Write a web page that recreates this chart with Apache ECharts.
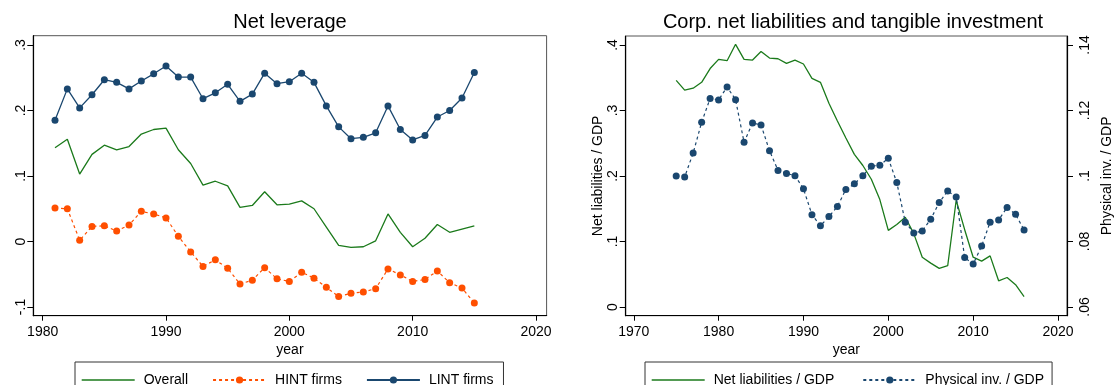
<!DOCTYPE html>
<html>
<head>
<meta charset="utf-8">
<script src="https://cdn.jsdelivr.net/npm/echarts@6/dist/echarts.min.js"></script>
<style>
  html, body { margin: 0; padding: 0; background: #fff; }
  #chart { width: 1115px; height: 385px; }
</style>
</head>
<body>
<div id="chart"></div>
<script>
// left panel: net leverage
const levYears = [1981, 1982, 1983, 1984, 1985, 1986, 1987, 1988, 1989, 1990,
  1991, 1992, 1993, 1994, 1995, 1996, 1997, 1998, 1999, 2000,
  2001, 2002, 2003, 2004, 2005, 2006, 2007, 2008, 2009, 2010,
  2011, 2012, 2013, 2014, 2015];
const overall = [0.143, 0.156, 0.103, 0.133, 0.147, 0.140, 0.145, 0.164, 0.171, 0.173,
  0.140, 0.119, 0.086, 0.092, 0.085, 0.052, 0.055, 0.076, 0.056, 0.057,
  0.062, 0.050, 0.022, -0.006, -0.009, -0.008, 0.001, 0.042, 0.014, -0.008,
  0.005, 0.026, 0.014, 0.019, 0.024];
const hint = [0.051, 0.050, 0.002, 0.023, 0.024, 0.016, 0.025, 0.046, 0.042, 0.036,
  0.008, -0.016, -0.038, -0.028, -0.041, -0.065, -0.059, -0.040, -0.057, -0.061,
  -0.047, -0.056, -0.070, -0.084, -0.079, -0.077, -0.072, -0.042, -0.051, -0.061,
  -0.058, -0.045, -0.063, -0.071, -0.094];
const lint = [0.185, 0.233, 0.204, 0.224, 0.247, 0.243, 0.233, 0.245, 0.256, 0.268,
  0.251, 0.251, 0.218, 0.227, 0.240, 0.214, 0.225, 0.257, 0.241, 0.244,
  0.257, 0.243, 0.207, 0.175, 0.157, 0.159, 0.166, 0.207, 0.171, 0.155,
  0.162, 0.190, 0.200, 0.219, 0.258];
const levXTicks = [1980, 1990, 2000, 2010, 2020];
const levYTicks = [-0.1, 0, 0.1, 0.2, 0.3];

// right panel: corporate net liabilities and investment
const corpYears = [1975, 1976, 1977, 1978, 1979, 1980, 1981, 1982, 1983, 1984,
  1985, 1986, 1987, 1988, 1989, 1990, 1991, 1992, 1993, 1994,
  1995, 1996, 1997, 1998, 1999, 2000, 2001, 2002, 2003, 2004,
  2005, 2006, 2007, 2008, 2009, 2010, 2011, 2012, 2013, 2014,
  2015, 2016];
const netLiab = [0.346, 0.331, 0.334, 0.343, 0.364, 0.378, 0.376, 0.401, 0.378, 0.377,
  0.390, 0.380, 0.379, 0.372, 0.377, 0.371, 0.349, 0.343, 0.311, 0.284,
  0.258, 0.233, 0.216, 0.195, 0.164, 0.117, 0.126, 0.137, 0.112, 0.076,
  0.067, 0.059, 0.063, 0.163, 0.118, 0.076, 0.070, 0.078, 0.040, 0.045,
  0.034, 0.016];
const physInv = [0.1000, 0.0997, 0.1070, 0.1164, 0.1237, 0.1232, 0.1272, 0.1233, 0.1103, 0.1162,
  0.1156, 0.1077, 0.1017, 0.1008, 0.1001, 0.0961, 0.0882, 0.0848, 0.0876, 0.0907,
  0.0959, 0.0976, 0.1001, 0.1030, 0.1033, 0.1054, 0.0980, 0.0859, 0.0826, 0.0832,
  0.0868, 0.0919, 0.0954, 0.0936, 0.0751, 0.0731, 0.0786, 0.0859, 0.0866, 0.0904,
  0.0883, 0.0835];
const corpXTicks = [1970, 1980, 1990, 2000, 2010, 2020];
const liabTicks = [0, 0.1, 0.2, 0.3, 0.4];
const invTicks = [0.06, 0.08, 0.1, 0.12, 0.14];

const FONT = "'Liberation Sans', Arial, Helvetica, sans-serif";
const GREEN = '#1b7a1b';
const ORANGE = '#ff4f00';
const NAVY = '#1a476f';

// stata style numbers: .1, -.1, 0
const fmt = v => {
  const r = Math.round(v * 1000) / 1000;
  if (r === 0) return '0';
  return String(r).replace('0.', '.');
};

const txt = {color: '#000', fontSize: 14, fontFamily: FONT};

const xAxis = (gridIndex, min, max, ticks) => ({
  type: 'value', gridIndex, min, max,
  name: 'year', nameLocation: 'middle', nameGap: 25,
  nameTextStyle: txt,
  axisLine: {onZero: false, lineStyle: {color: '#000', width: 1.2}},
  axisTick: {customValues: ticks, length: 5, lineStyle: {color: '#000', width: 1}},
  axisLabel: Object.assign({customValues: ticks, margin: 9, formatter: v => String(Math.round(v))}, txt),
  splitLine: {show: false}
});

const yAxis = (gridIndex, min, max, ticks, margin, extra) => Object.assign({
  type: 'value', gridIndex, min, max,
  axisLine: {show: true, onZero: false, lineStyle: {color: '#000', width: 1.2}},
  axisTick: {show: true, customValues: ticks, length: 6, lineStyle: {color: '#000', width: 1}},
  axisLabel: Object.assign({customValues: ticks, rotate: 90, margin: margin, formatter: fmt}, txt),
  splitLine: {show: false}
}, extra);

const pairs = (xs, ys) => xs.map((x, i) => [x, ys[i]]);

const chart = echarts.init(document.getElementById('chart'));
chart.setOption({
  animation: false,
  backgroundColor: '#fff',
  title: [
    {text: 'Net leverage', left: 290, top: 12, textAlign: 'center', padding: 0,
      textStyle: {fontSize: 20, fontWeight: 'normal', color: '#000', fontFamily: FONT}},
    {text: 'Corp. net liabilities and tangible investment', left: 853, top: 12, textAlign: 'center', padding: 0,
      textStyle: {fontSize: 20, fontWeight: 'normal', color: '#000', fontFamily: FONT}}
  ],
  grid: [
    {left: 33.3, right: 568.4, top: 35.7, bottom: 69.3, show: true, borderColor: '#555', borderWidth: 1, backgroundColor: '#fff'},
    {left: 625.7, right: 35, top: 36, bottom: 69.3, show: true, borderColor: '#555', borderWidth: 1, backgroundColor: '#fff'}
  ],
  xAxis: [
    xAxis(0, 1979.24, 2020.86, levXTicks),
    xAxis(1, 1969.05, 2021.06, corpXTicks)
  ],
  yAxis: [
    yAxis(0, -0.1133, 0.3142, levYTicks, 5),
    yAxis(1, -0.0133, 0.4137, liabTicks, 6, {
      name: 'Net liabilities / GDP', nameLocation: 'middle', nameRotate: 90, nameGap: 17, nameTextStyle: txt
    }),
    yAxis(1, 0.05734, 0.14275, invTicks, 11, {
      position: 'right',
      name: 'Physical inv. / GDP', nameLocation: 'middle', nameRotate: 90, nameGap: 33, nameTextStyle: txt
    })
  ],
  legend: [
    {
      left: 75, top: 362, padding: [11, 10, 20, 6.7],
      itemWidth: 53, itemHeight: 9, itemGap: 24,
      borderColor: '#333', borderWidth: 1, selectedMode: false,
      textStyle: Object.assign({padding: [0, 0, 0, 4]}, txt),
      data: [{name: 'Overall', icon: 'path://M0,0h53v1.3h-53z'}, 'HINT firms', 'LINT firms']
    },
    {
      left: 645, top: 362, padding: [11, 8, 20, 6.7],
      itemWidth: 53, itemHeight: 9, itemGap: 28,
      borderColor: '#333', borderWidth: 1, selectedMode: false,
      textStyle: Object.assign({padding: [0, 0, 0, 4]}, txt),
      data: [{name: 'Net liabilities / GDP', icon: 'path://M0,0h53v1.3h-53z'}, 'Physical inv. / GDP']
    }
  ],
  series: [
    {
      type: 'line', name: 'Overall', xAxisIndex: 0, yAxisIndex: 0,
      data: pairs(levYears, overall), symbol: 'none',
      lineStyle: {color: GREEN, width: 1.3}, itemStyle: {color: GREEN}
    },
    {
      type: 'line', name: 'HINT firms', xAxisIndex: 0, yAxisIndex: 0,
      data: pairs(levYears, hint), symbol: 'circle', symbolSize: 7,
      lineStyle: {color: ORANGE, width: 1.2, type: [3, 3]}, itemStyle: {color: ORANGE}
    },
    {
      type: 'line', name: 'LINT firms', xAxisIndex: 0, yAxisIndex: 0,
      data: pairs(levYears, lint), symbol: 'circle', symbolSize: 7,
      lineStyle: {color: NAVY, width: 1.3}, itemStyle: {color: NAVY}
    },
    {
      type: 'line', name: 'Net liabilities / GDP', xAxisIndex: 1, yAxisIndex: 1,
      data: pairs(corpYears, netLiab), symbol: 'none',
      lineStyle: {color: GREEN, width: 1.3}, itemStyle: {color: GREEN}
    },
    {
      type: 'line', name: 'Physical inv. / GDP', xAxisIndex: 1, yAxisIndex: 2,
      data: pairs(corpYears, physInv), symbol: 'circle', symbolSize: 7,
      lineStyle: {color: NAVY, width: 1.2, type: [3, 3]}, itemStyle: {color: NAVY}
    }
  ]
});
</script>
</body>
</html>
